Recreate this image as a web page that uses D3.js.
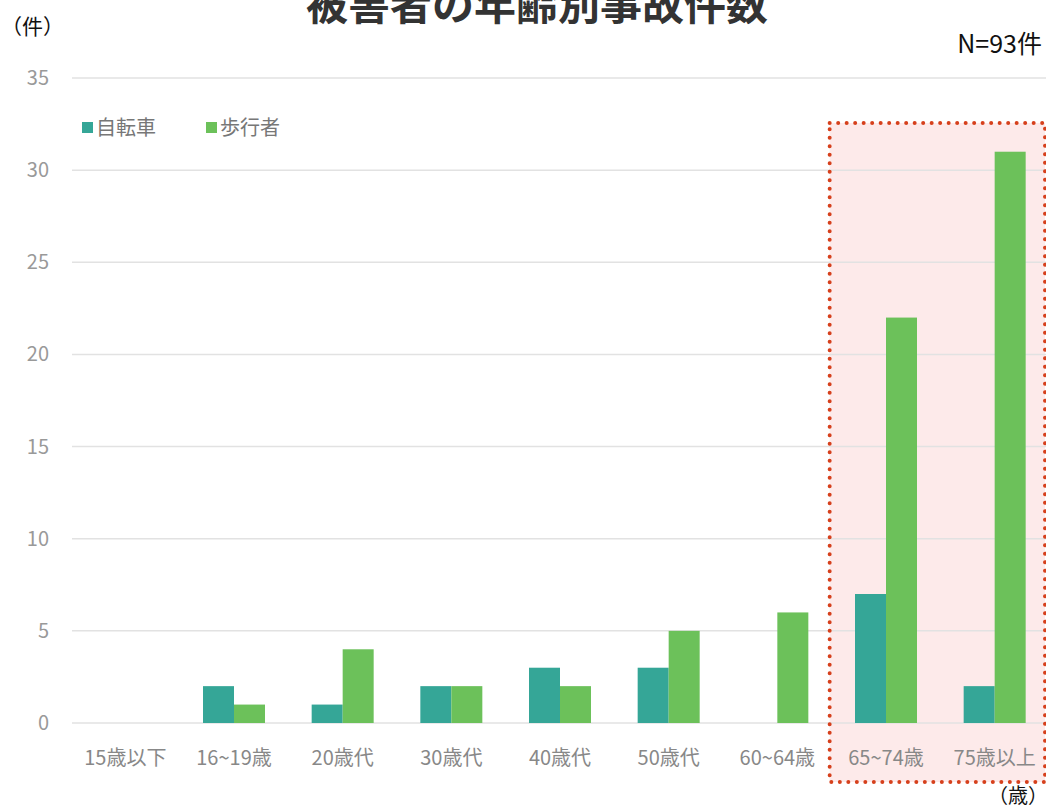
<!DOCTYPE html>
<head>
    <meta charset="utf-8">
    <style>
        body { margin: 0; background: #fff; }
        text { font-family: "Noto Sans CJK JP", "Noto Sans", sans-serif; }
    </style>
    <script src="https://d3js.org/d3.v7.min.js"></script>
</head>
<body>
<div id="chart"></div>
<script>
    const ageGroups = ["15歳以下", "16~19歳", "20歳代", "30歳代", "40歳代", "50歳代", "60~64歳", "65~74歳", "75歳以上"];
    const seriesNames = ["自転車", "歩行者"];
    const bicycle = [0, 2, 1, 2, 3, 3, 0, 7, 2];
    const pedestrian = [0, 1, 4, 2, 2, 5, 6, 22, 31];
    const yTicks = [0, 5, 10, 15, 20, 25, 30, 35];
    const highlighted = ["65~74歳", "75歳以上"];

    const colors = { "自転車": "#35a697", "歩行者": "#6cc15a" };

    const width = 1046, height = 810;

    const rows = ageGroups.map(function(g, i) {
        return { group: g, values: [
            { key: "自転車", value: bicycle[i] },
            { key: "歩行者", value: pedestrian[i] }
        ]};
    });

    const svg = d3.select("#chart").append("svg")
        .attr("width", width)
        .attr("height", height);

    const x0 = d3.scaleBand().domain(ageGroups).range([71, 1049]).padding(0);
    const step = x0.bandwidth();
    const barW = 31;
    const x1 = d3.scaleBand().domain(seriesNames).range([0, step])
        .paddingInner(0).paddingOuter((step - 2 * barW) / (2 * barW));
    const y = d3.scaleLinear().domain([0, 35]).range([723, 78]);

    // highlight box (fill under the grid)
    const hx0 = x0(highlighted[0]) - 2;
    const hx1 = 1045;
    const hy0 = 123, hy1 = 782;
    svg.append("rect")
        .attr("x", hx0).attr("y", hy0)
        .attr("width", hx1 - hx0).attr("height", hy1 - hy0)
        .attr("fill", "#fdeaea");

    // grid lines
    svg.append("g")
        .selectAll("line")
        .data(yTicks)
        .join("line")
        .attr("x1", 72).attr("x2", 1046)
        .attr("y1", d => y(d)).attr("y2", d => y(d))
        .attr("stroke", "#e2e2e2")
        .attr("stroke-width", 1.5);

    // y tick labels
    svg.append("g")
        .selectAll("text")
        .data(yTicks)
        .join("text")
        .attr("x", 49)
        .attr("y", d => y(d))
        .attr("dy", "0.35em")
        .attr("text-anchor", "end")
        .attr("font-size", 20)
        .attr("fill", "#999")
        .text(d => d);

    // bars
    svg.append("g")
        .selectAll("g")
        .data(rows)
        .join("g")
        .attr("transform", d => "translate(" + x0(d.group) + ",0)")
        .selectAll("rect")
        .data(d => d.values)
        .join("rect")
        .attr("x", d => x1(d.key))
        .attr("width", x1.bandwidth())
        .attr("y", d => y(d.value))
        .attr("height", d => y(0) - y(d.value))
        .attr("fill", d => colors[d.key]);

    // x labels
    svg.append("g")
        .selectAll("text")
        .data(ageGroups)
        .join("text")
        .attr("x", d => x0(d) + step / 2)
        .attr("y", 765)
        .attr("text-anchor", "middle")
        .attr("font-size", 20)
        .attr("fill", "#888")
        .text(d => d);

    // dotted border
    svg.append("rect")
        .attr("x", hx0).attr("y", hy0)
        .attr("width", hx1 - hx0).attr("height", hy1 - hy0)
        .attr("fill", "none")
        .attr("stroke", "#d6401c")
        .attr("stroke-width", 4)
        .attr("stroke-linecap", "round")
        .attr("stroke-dasharray", "0 8.5");

    // legend
    const legend = svg.append("g").attr("transform", "translate(82,128)");
    seriesNames.forEach(function(name, i) {
        const g = legend.append("g").attr("transform", "translate(" + (i * 124) + ",0)");
        g.append("rect").attr("x", 0).attr("y", -6).attr("width", 11).attr("height", 11)
            .attr("fill", colors[name]);
        g.append("text").attr("x", 14).attr("y", 0).attr("dy", "0.35em")
            .attr("font-size", 20).attr("fill", "#777").text(name);
    });

    // title and notes
    svg.append("text")
        .attr("x", 537).attr("y", 20)
        .attr("text-anchor", "middle")
        .attr("font-size", 42)
        .attr("font-weight", "bold")
        .attr("fill", "#333")
        .text("被害者の年齢別事故件数");

    svg.append("text")
        .attr("x", 1).attr("y", 34)
        .attr("font-size", 21)
        .attr("fill", "#111")
        .text("（件）");

    svg.append("text")
        .attr("x", 1042).attr("y", 53)
        .attr("text-anchor", "end")
        .attr("font-size", 25)
        .attr("fill", "#111")
        .text("N=93件");

    svg.append("text")
        .attr("x", 1048).attr("y", 803)
        .attr("text-anchor", "end")
        .attr("font-size", 20)
        .attr("fill", "#111")
        .text("（歳）");
</script>
</body>
